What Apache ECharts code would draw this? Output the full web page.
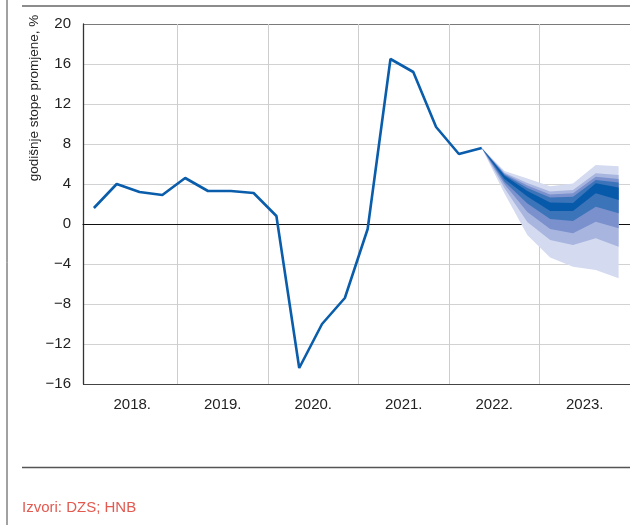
<!DOCTYPE html>
<html>
<head>
<meta charset="utf-8">
<script src="https://cdn.jsdelivr.net/npm/echarts@6/dist/echarts.min.js"></script>
<style>
html, body { margin: 0; padding: 0; background: #fff; }
#chart { width: 630px; height: 525px; }
</style>
</head>
<body>
<div id="chart"></div>
<script>
// godisnje stope promjene, kvartalno 2018.-2023.
const years = ['2018.', '2019.', '2020.', '2021.', '2022.', '2023.']
const histValues = [1.6, 4.0, 3.2, 2.9, 4.6, 3.3, 3.3, 3.1, 0.8, -14.4, -10.0, -7.4, -0.5, 16.5, 15.2, 9.7, 7.0, 7.6]

// projekcija (lepeza) od 2022. Q2 do 2023. Q4
const fanStart = 17
const l5Top = [7.6, 5.3, 4.55, 3.77, 4.05, 5.9, 5.77]
const l4Top = [7.6, 5.13, 4.1, 3.25, 3.4, 5.07, 4.9]
const l3Top = [7.6, 5.03, 3.85, 2.95, 3.07, 4.73, 4.5]
const l2Top = [7.6, 4.93, 3.6, 2.65, 2.73, 4.4, 4.15]
const l1Top = [7.6, 4.83, 3.3, 2.15, 2.1, 4.07, 3.65]
const l1Bot = [7.6, 4.5, 2.75, 1.3, 1.3, 3.07, 2.4]
const l2Bot = [7.6, 4.23, 2.05, 0.5, 0.3, 1.73, 1.07]
const l3Bot = [7.6, 3.97, 1.2, -0.5, -0.93, 0.23, -0.43]
const l4Bot = [7.6, 3.57, 0.2, -1.6, -2.1, -1.43, -2.27]
const l5Bot = [7.6, 3.05, -1.1, -3.35, -4.27, -4.6, -5.43]

const bands = [
  { top: l5Top, bot: l5Bot, color: '#d4daf0' },
  { top: l4Top, bot: l4Bot, color: '#a8b5df' },
  { top: l3Top, bot: l3Bot, color: '#7a91cd' },
  { top: l2Top, bot: l2Bot, color: '#3c74ba' },
  { top: l1Top, bot: l1Bot, color: '#075aa9' }
]

const font = "'Liberation Sans', Arial, sans-serif"
const minus = (v) => String(v).replace('-', '\u2212')

const chart = echarts.init(document.getElementById('chart'), null, { renderer: 'canvas' })

const option = {
  animation: false,
  backgroundColor: '#fff',
  grid: [
    { left: 83, top: 24, width: 551.5, height: 360 },
    { left: 87, top: 24, width: 547.5, height: 360 }
  ],
  xAxis: [
    {
      gridIndex: 0,
      type: 'value',
      min: -0.478,
      max: 23.5,
      axisLine: { show: true, onZero: true, lineStyle: { color: '#111', width: 1.2 } },
      axisTick: { show: false },
      axisLabel: { show: false },
      splitLine: { show: false }
    },
    {
      gridIndex: 1,
      type: 'category',
      data: years,
      boundaryGap: true,
      axisLine: { show: false },
      axisTick: { show: false },
      axisLabel: { color: '#222', fontSize: 15, fontFamily: font, margin: 13 },
      splitLine: { show: true, showMinLine: false, lineStyle: { color: '#cdcdcd', width: 1 } }
    }
  ],
  yAxis: [
    {
      gridIndex: 0,
      type: 'value',
      min: -16,
      max: 20,
      interval: 4,
      axisLine: { show: true, onZero: false, lineStyle: { color: '#333', width: 1.3 } },
      axisTick: { show: false },
      axisLabel: { color: '#222', fontSize: 15, fontFamily: font, margin: 12, formatter: minus },
      splitLine: {
        show: true,
        lineStyle: {
          color: ['#444', '#d2d2d2', '#d2d2d2', '#d2d2d2', '#d2d2d2', '#d2d2d2', '#d2d2d2', '#d2d2d2', '#d2d2d2', '#7a7a7a'],
          width: 1.2
        }
      }
    },
    {
      gridIndex: 1,
      type: 'value',
      min: -16,
      max: 20,
      show: false
    }
  ],
  graphic: [
    { type: 'line', shape: { x1: 7, y1: 0, x2: 7, y2: 525 }, style: { stroke: '#444', lineWidth: 1 } },
    { type: 'line', shape: { x1: 22, y1: 6, x2: 630, y2: 6 }, style: { stroke: '#666', lineWidth: 1.5 } },
    { type: 'line', shape: { x1: 22, y1: 467.5, x2: 630, y2: 467.5 }, style: { stroke: '#555', lineWidth: 1.5 } },
    {
      type: 'text',
      x: 34,
      y: 98,
      rotation: Math.PI / 2,
      style: {
        text: 'godišnje stope promjene, %',
        fill: '#222',
        font: '13.5px ' + font,
        textAlign: 'center',
        textVerticalAlign: 'middle'
      }
    },
    {
      type: 'text',
      left: 22,
      top: 500,
      style: { text: 'Izvori: DZS; HNB', fill: '#e25a50', font: '15px ' + font }
    }
  ],
  series: [
    {
      type: 'custom',
      xAxisIndex: 0,
      yAxisIndex: 0,
      z: 3,
      silent: true,
      data: bands.map((b, i) => [i]),
      renderItem: function (params, api) {
        const b = bands[params.dataIndex]
        const pts = []
        b.top.forEach((v, k) => pts.push(api.coord([fanStart + k, v])))
        for (let k = b.bot.length - 1; k >= 0; k--) {
          pts.push(api.coord([fanStart + k, b.bot[k]]))
        }
        return { type: 'polygon', shape: { points: pts }, style: { fill: b.color } }
      }
    },
    {
      type: 'line',
      xAxisIndex: 0,
      yAxisIndex: 0,
      z: 4,
      showSymbol: false,
      silent: true,
      data: histValues.map((v, i) => [i, v]),
      lineStyle: { color: '#0a5dab', width: 2.6 }
    }
  ]
}

chart.setOption(option)
</script>
</body>
</html>
